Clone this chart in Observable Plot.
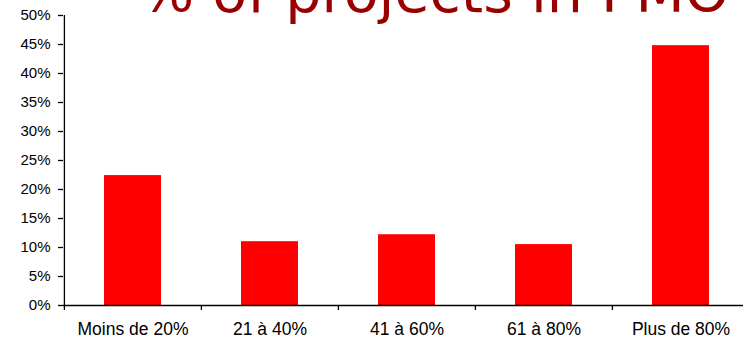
<!DOCTYPE html>
<html>
<head>
<meta charset="utf-8">
<script src="https://cdn.jsdelivr.net/npm/d3@7"></script>
<script src="https://cdn.jsdelivr.net/npm/@observablehq/plot@0.6"></script>
<style>
  html, body { margin: 0; padding: 0; background: #fff; overflow: hidden; }
  #wrap { position: relative; width: 743px; height: 339px; }
  #title {
    position: absolute; left: 140px; top: -36px;
    font-family: "DejaVu Sans", sans-serif; font-size: 57px; line-height: 57px;
    color: #990000; white-space: nowrap; z-index: 1;
  }
</style>
</head>
<body>
<div id="wrap">
  <div id="title">% of projects in PMO</div>
  <div id="chart"></div>
</div>
<script>
// Share of projects by proportion handled in the PMO
const categories = ["Moins de 20%", "21 à 40%", "41 à 60%", "61 à 80%", "Plus de 80%"];
const shares = [22.4, 11.0, 12.2, 10.5, 44.8];
const yTicks = [0, 5, 10, 15, 20, 25, 30, 35, 40, 45, 50];

const data = categories.map((c, i) => ({category: c, share: shares[i]}));

const xRange = [63, 749];
const band = (xRange[1] - xRange[0]) / categories.length;

const chart = Plot.plot({
  width: 743,
  height: 339,
  marginTop: 15,
  marginBottom: 34,
  marginLeft: 63,
  marginRight: 0,
  style: {fontFamily: "'Liberation Sans', Arial, sans-serif", fontSize: "15px", color: "#000", background: "#fff"},
  x: {domain: categories, range: xRange, padding: 0, label: null},
  y: {domain: [0, 50], label: null},
  marks: [
    Plot.barY(data, {x: "category", y: "share", fill: "#ff0000", insetLeft: 40, insetRight: 40}),
    // axis lines
    Plot.ruleY([0], {stroke: "#000", strokeWidth: 1.3}),
    Plot.ruleX([0], {x: () => categories[0], dx: -band / 2, y1: 0, y2: 50, stroke: "#000", strokeWidth: 1.3}),
    // y axis ticks and labels
    Plot.axisY({ticks: yTicks, tickFormat: d => d + "%", tickSize: 5, tickPadding: 8, stroke: "#000", strokeWidth: 1.3}),
    // x axis tick marks at band boundaries
    Plot.axisX({tickSize: 5, tickFormat: () => "", dx: -band / 2, stroke: "#000", strokeWidth: 1.3}),
    // x axis category labels
    Plot.axisX({tickSize: 0, tickPadding: 17, fontSize: 17.5})
  ]
});

document.getElementById("chart").appendChild(chart);
</script>
</body>
</html>
